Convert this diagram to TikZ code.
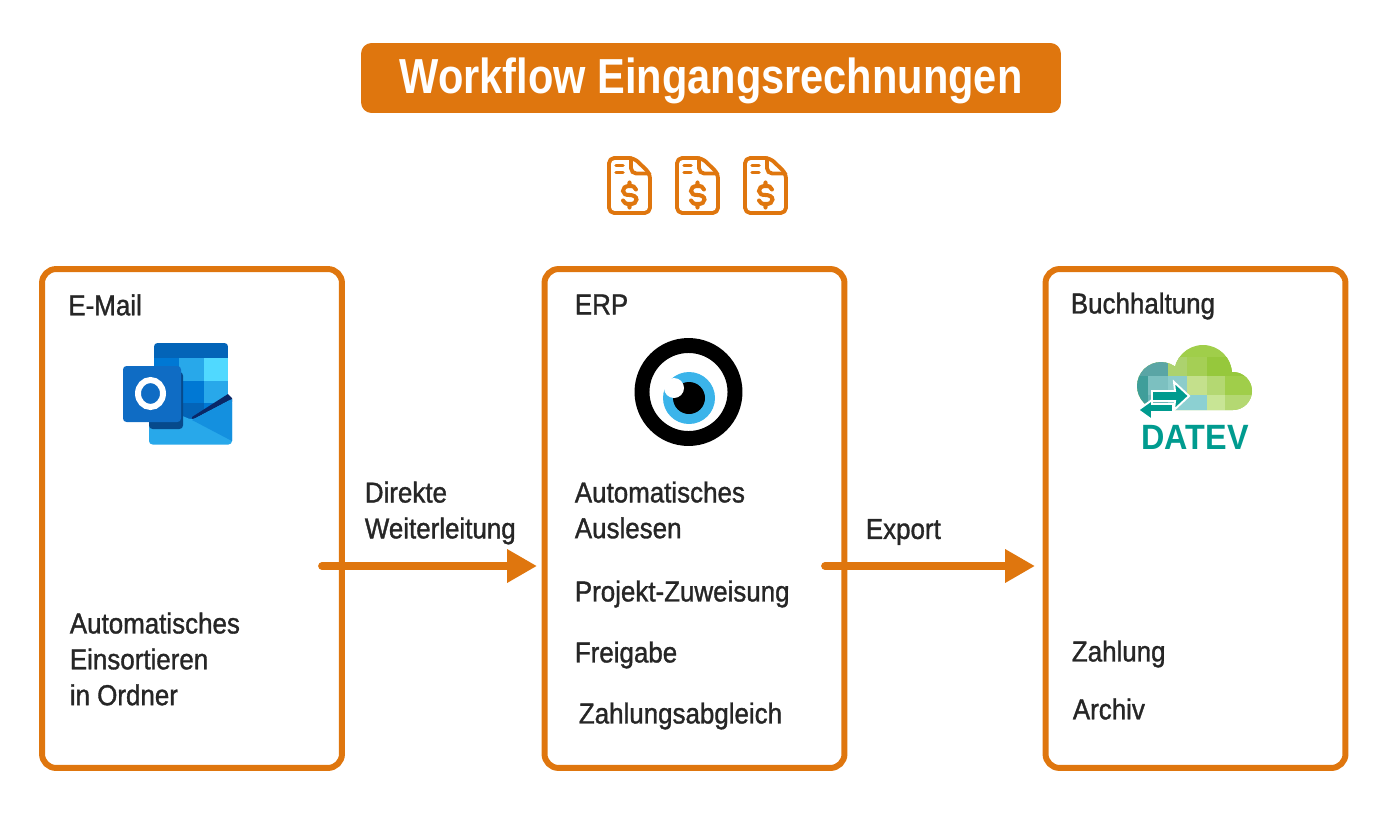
\documentclass[tikz,border=0pt]{standalone}
\usepackage{fontspec}
\setmainfont{Liberation Sans}
\newfontfamily\flowfont[FakeStretch=0.9,FakeBold=1.2]{Liberation Sans}
\newfontfamily\titlefont[FakeStretch=0.845]{Liberation Sans Bold}
\newfontfamily\logofont[FakeStretch=0.92]{Liberation Sans Bold}
\usepackage{tikz}
\usetikzlibrary{
  arrows.meta
}
\definecolor{flow}{HTML}{DF760E}
\definecolor{ink}{HTML}{262626}
\definecolor{datevteal}{HTML}{009B8F}
\definecolor{outlookA}{HTML}{0364B8}
\definecolor{outlookB}{HTML}{0078D4}
\definecolor{outlookC}{HTML}{28A8EA}
\definecolor{outlookD}{HTML}{50D9FF}
\definecolor{outlookE}{HTML}{064A8C}
\definecolor{outlookF}{HTML}{0A2767}
\definecolor{outlookG}{HTML}{1490DF}
\definecolor{outlookH}{HTML}{0F6CC4}
\definecolor{iris}{HTML}{3BB4EA}
\definecolor{cloudA}{HTML}{A0CE4A}
\definecolor{cloudB}{HTML}{5AA5A5}
\definecolor{cloudC}{HTML}{ACD26E}
\definecolor{cloudD}{HTML}{A5CF55}
\definecolor{cloudE}{HTML}{96C83C}
\definecolor{cloudF}{HTML}{3F9E9A}
\definecolor{cloudG}{HTML}{7CC0C0}
\definecolor{cloudH}{HTML}{8CCCCB}
\definecolor{cloudI}{HTML}{C4E08C}
\definecolor{cloudJ}{HTML}{B4D872}
\definecolor{cloudK}{HTML}{6BB5B8}
\definecolor{cloudL}{HTML}{8CD0D2}
\definecolor{cloudM}{HTML}{C8E595}
\tikzset{
  flowbox/.style={draw=flow,line width=3.4pt,rounded corners=8pt,minimum width=6cm,minimum height=9.98cm,inner sep=0},
  flowtext/.style={anchor=west,inner sep=0,align=left,text=ink,font=\flowfont\fontsize{16.4}{20.4}\selectfont},
  flowarrow/.style={draw=flow,line width=4.4pt,line cap=round,-{Triangle[length=17pt,width=18pt]}},
  titlebox/.style={fill=flow,rounded corners=6pt,minimum width=14cm,minimum height=1.4cm,inner sep=0,text height=18pt,text depth=0pt,text=white,font=\titlefont\fontsize{28}{30}\selectfont},
  pics/invoice/.style={code={
    \draw[flow,line width=2.2pt,rounded corners=3pt,line cap=round,line join=round]
      (2,2) -- (27,2) -- (43,17.5) -- (43,57) -- (2,57) -- cycle;
    \draw[flow,line width=2.2pt,rounded corners=3pt,line cap=round]
      (24,2) -- (24,17.5) -- (42.5,17.5);
    \draw[flow,line width=2pt,line cap=round] (9,9.5) -- (16,9.5) (9,16.5) -- (16,16.5);
    \draw[flow,line width=2.3pt,line cap=round]
      (29,33.5) .. controls (28,30.5) and (26,30) .. (22.5,30) .. controls (18,30) and (16,32) .. (16,35)
      .. controls (16,38) and (19,39) .. (22.5,39) .. controls (26,39) and (29.5,40.5) .. (29.5,43.5)
      .. controls (29.5,46.5) and (27,48) .. (22.5,48) .. controls (19,48) and (17,47) .. (16,44.5)
      (22.5,26.5) -- (22.5,30) (22.5,48) -- (22.5,51.5);
  }},
  pics/outlook/.style={code={
    \begin{scope}
    \clip[rounded corners=2pt] (154,343) rectangle (228,425);
    \fill[outlookA] (154,343) rectangle (228,358);
    \fill[outlookB] (154,358) rectangle (179,381);
    \fill[outlookC] (179,358) rectangle (204,381);
    \fill[outlookD] (204,358) rectangle (228,381);
    \fill[outlookA] (154,381) rectangle (179,403);
    \fill[outlookB] (179,381) rectangle (204,403);
    \fill[outlookC] (204,381) rectangle (228,403);
    \fill[outlookE] (154,403) rectangle (179,425);
    \fill[outlookA] (179,403) rectangle (204,425);
    \fill[outlookB] (204,403) rectangle (228,425);
    \end{scope}
    \fill[outlookF] (192,417) -- (228,394) -- (232,398) -- (232,402) -- (192,423) -- cycle;
    \fill[outlookC,rounded corners=2pt] (149,402) -- (192,420) -- (232,399) -- (232,444.5) -- (149,444.5) -- cycle;
    \fill[outlookG] (192,420) -- (232,399) -- (232,441) -- cycle;
    \fill[outlookE,rounded corners=2pt] (149,372) rectangle (183,429);
    \fill[outlookH,rounded corners=2pt] (123,366) rectangle (181,422);
    \draw[white,line width=3.4pt] (150.5,393.5) ellipse [x radius=12.5,y radius=13.5];
  }},
  pics/eye/.style={code={
    \draw[black,line width=8.5pt] (688.5,392) circle [radius=46.5];
    \fill[iris] (689,398) circle [radius=26];
    \fill[black] (689,398) circle [radius=16];
    \fill[white] (674,388) circle [radius=10];
  }},
  pics/datev/.style={code={
    \begin{scope}
    \clip (1161,386) circle [radius=24] (1203,374) circle [radius=29] (1233,391) circle [radius=19]
      (1161,410) rectangle (1233,385);
    \fill[cloudA] (1130,340) rectangle (1260,415);
    \fill[cloudB] (1130,357) rectangle (1168,376);
    \fill[cloudC] (1168,357) rectangle (1187,376);
    \fill[cloudD] (1187,357) rectangle (1207,376);
    \fill[cloudE] (1207,357) rectangle (1260,376);
    \fill[cloudF] (1130,376) rectangle (1148,415);
    \fill[cloudG] (1148,376) rectangle (1168,395);
    \fill[cloudH] (1168,376) rectangle (1187,395);
    \fill[cloudI] (1187,376) rectangle (1207,395);
    \fill[cloudJ] (1207,376) rectangle (1225,395);
    \fill[cloudA] (1225,376) rectangle (1260,395);
    \fill[cloudK] (1148,395) rectangle (1168,415);
    \fill[cloudL] (1168,395) rectangle (1207,415);
    \fill[cloudM] (1207,395) rectangle (1225,415);
    \fill[cloudJ] (1225,395) rectangle (1260,415);
    \end{scope}
    \draw[white,line width=1.1pt,fill=datevteal] (1152,391) -- (1175,391) -- (1174,382) -- (1189,396) -- (1174,410) -- (1175,401) -- (1152,401) -- cycle;
    \draw[white,line width=1.1pt,fill=datevteal] (1173,404) -- (1152,404) -- (1152,400) -- (1138,410) -- (1152,420) -- (1152,412) -- (1173,412) -- cycle;
  }},
}

\begin{document}
\begin{tikzpicture}[x=0.02cm,y=-0.02cm]
\useasboundingbox (0,0) rectangle (1400,818);

\node[titlebox] (title) at (711,78) {Workflow Eingangsrechnungen};

\pic at (607,156) {invoice};
\pic at (675,156) {invoice};
\pic at (743,156) {invoice};

\node[flowbox] (email) at (192,518.5) {};
\node[flowbox] (erp) at (694.5,518.5) {};
\node[flowbox] (accounting) at (1195.5,518.5) {};

\pic {outlook};
\pic {eye};
\pic {datev};
\node[inner sep=0,text=datevteal,font=\logofont\fontsize{20}{20}\selectfont] (datev-logo) at (1195,437.5) {DATEV};

\node[flowtext] (email-head) at (68,305) {E-Mail};
\node[flowtext] (email-sort) at (69.5,659) {Automatisches\\Einsortieren\\in Ordner};

\node[flowtext] (direct) at (364.5,513) {Direkte\\Weiterleitung};

\node[flowtext] (erp-head) at (574.5,304.5) {ERP};
\node[flowtext] (erp-read) at (574.5,510) {Automatisches\\Auslesen};
\node[flowtext] (erp-project) at (574.5,594) {Projekt-Zuweisung};
\node[flowtext] (erp-release) at (574.5,655) {Freigabe};
\node[flowtext] (erp-match) at (578.5,716) {Zahlungsabgleich};

\node[flowtext] (export) at (865.5,532) {Export};

\node[flowtext] (acc-head) at (1070.5,306) {Buchhaltung};
\node[flowtext] (acc-pay) at (1071.5,654) {Zahlung};
\node[flowtext] (acc-archive) at (1072.5,709) {Archiv};

\coordinate (direct-start) at (322,566);
\coordinate (direct-end) at (537,566);
\coordinate (export-start) at (825,566);
\coordinate (export-end) at (1035,566);
\draw[flowarrow] (direct-start) -- (direct-end);
\draw[flowarrow] (export-start) -- (export-end);
\end{tikzpicture}
\end{document}
